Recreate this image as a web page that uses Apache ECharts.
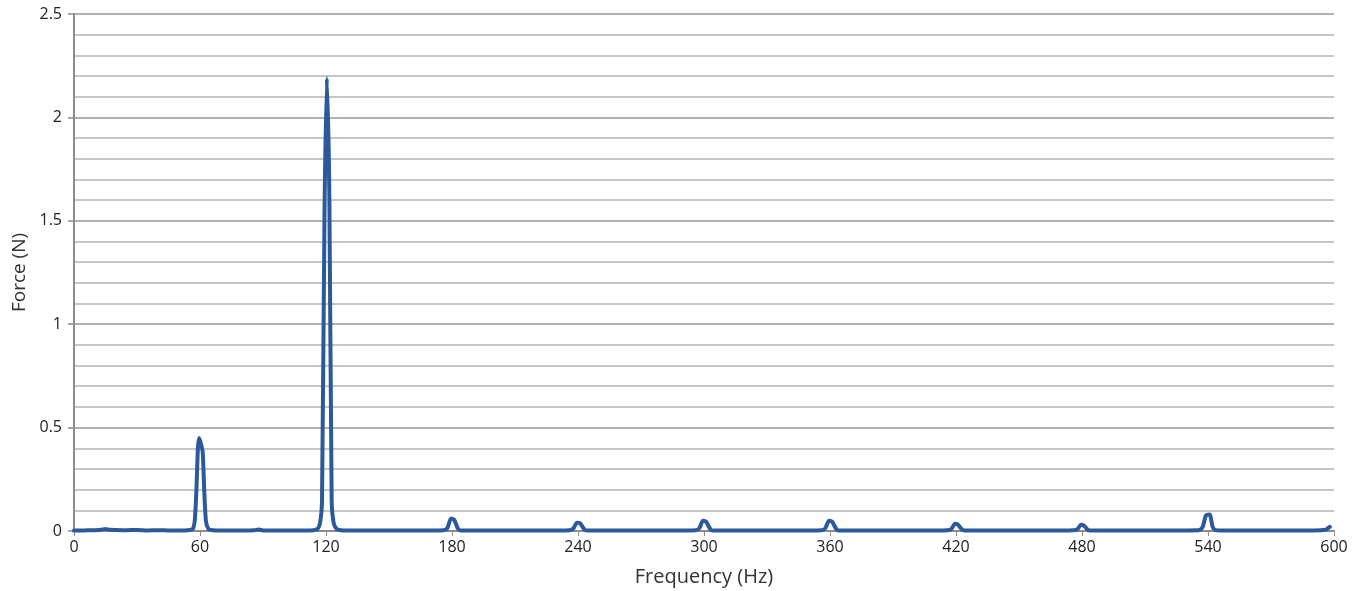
<!DOCTYPE html>
<html>
<head>
<meta charset="utf-8">
<script src="https://cdn.jsdelivr.net/npm/echarts@6/dist/echarts.min.js"></script>
<style>
html,body{margin:0;padding:0;background:#fff;}
#c{width:1356px;height:591px;}
</style>
</head>
<body>
<div id="c"></div>
<script>
const freqHz = [0,5,10,13,15,17,20,25,30,35,40,45,50,54,56.5,57.5,58.3,59,59.6,60.5,61.3,62,62.8,64,66,70,80,86,88,90,100,110,114,116,117.2,118.1,119.3,120.4,121.6,122.7,123.6,125,127,130,140,150,160,170,176,177.8,179.5,181,182.8,184,190,200,210,220,230,236,237.8,239.5,241,242.8,244,250,260,270,280,290,296,297.8,299.5,301,302.8,304,310,320,330,340,350,356,357.8,359.5,361,362.8,364,370,380,390,400,410,416,417.8,419.5,421,422.8,424,430,440,450,460,470,476,477.8,479.5,481,482.8,484,490,500,510,520,530,536,537.5,539,540.8,542.2,543.5,546,550,560,570,580,590,596,598,600];
const forceN = [0.002,0.003,0.004,0.006,0.01,0.006,0.005,0.004,0.005,0.003,0.004,0.003,0.003,0.004,0.01,0.05,0.2,0.4,0.45,0.42,0.38,0.2,0.05,0.01,0.004,0.003,0.003,0.004,0.007,0.003,0.003,0.003,0.004,0.01,0.04,0.14,1.55,2.19,1.62,0.14,0.04,0.01,0.004,0.003,0.003,0.003,0.003,0.003,0.004,0.014,0.06,0.055,0.012,0.003,0.003,0.003,0.003,0.003,0.003,0.004,0.012,0.04,0.038,0.01,0.003,0.003,0.003,0.003,0.003,0.003,0.004,0.014,0.05,0.045,0.012,0.003,0.003,0.003,0.003,0.003,0.003,0.004,0.014,0.05,0.045,0.012,0.003,0.003,0.003,0.003,0.003,0.003,0.004,0.01,0.035,0.03,0.008,0.003,0.003,0.003,0.003,0.003,0.003,0.004,0.008,0.03,0.025,0.006,0.003,0.003,0.003,0.003,0.003,0.003,0.005,0.02,0.075,0.08,0.02,0.005,0.003,0.003,0.003,0.003,0.003,0.003,0.006,0.02];
const xTicks = [0,60,120,180,240,300,360,420,480,540,600];
const yTicks = [0,0.5,1,1.5,2,2.5];

const data = freqHz.map((f,i)=>[f, forceN[i]]);
const chart = echarts.init(document.getElementById('c'));
const font = 'Open Sans, Noto Sans, sans-serif';
chart.setOption({
  animation:false,
  grid:{left:74,right:22,top:14,bottom:60,outerBoundsMode:'none',containLabel:false},
  xAxis:{
    type:'value', min:0, max:600, interval:60,
    name:'Frequency (Hz)', nameLocation:'middle', nameGap:36,
    nameTextStyle:{fontSize:20,color:'#333',fontFamily:font},
    axisLine:{show:true,lineStyle:{color:'#8c8c8c',width:2}},
    axisTick:{show:true,length:5,lineStyle:{color:'#8c8c8c',width:1}},
    axisLabel:{fontSize:16,color:'#222',fontFamily:font,margin:8},
    splitLine:{show:false}
  },
  yAxis:[{
    type:'value', min:0, max:2.5, interval:0.5,
    name:'Force (N)', nameLocation:'middle', nameGap:45, nameRotate:90,
    nameTextStyle:{fontSize:19,color:'#333',fontFamily:font},
    axisLine:{show:true,lineStyle:{color:'#8c8c8c',width:2}},
    axisTick:{show:true,length:6,lineStyle:{color:'#8c8c8c',width:1.5}},
    axisLabel:{fontSize:16,color:'#222',fontFamily:font,margin:12,formatter:v=>String(v)},
    splitLine:{show:true,lineStyle:{color:'#8f8f8f',width:1.5}}
  },{
    type:'value', min:0, max:2.5, interval:0.1, position:'left',
    axisLine:{show:false}, axisTick:{show:false}, axisLabel:{show:false},
    splitLine:{show:true,lineStyle:{color:'#b3b3b3',width:1.5}}
  }],
  series:[{
    type:'line', data:data, yAxisIndex:0, showSymbol:false, smooth:0.2,
    lineStyle:{color:'#2c589c',width:4,join:'round',cap:'round'},
    z:5
  }]
});
</script>
</body>
</html>
